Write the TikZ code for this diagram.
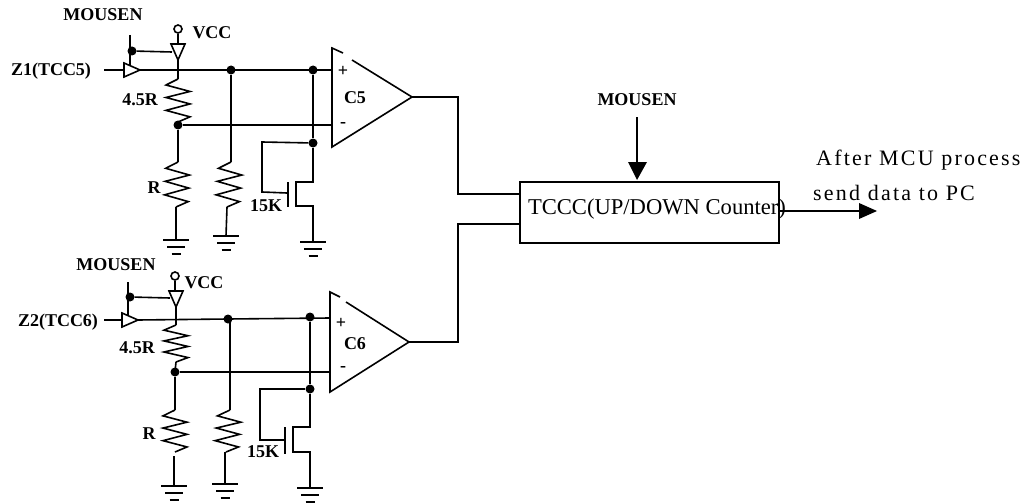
\documentclass[tikz,border=0pt]{standalone}
\usepackage{fontspec}
\setmainfont{Liberation Serif}
\usetikzlibrary{calc}
\tikzstyle{label} = [font=\fontsize{18}{18}\selectfont\bfseries, inner sep=0pt]
\tikzstyle{plain} = [font=\fontsize{22.6}{23}\selectfont, inner sep=0pt]
\tikzstyle{spaced} = [font=\fontsize{22}{22}\selectfont\addfontfeature{LetterSpace=10}, inner sep=0pt, anchor=west]
\tikzstyle{dot} = [circle, fill=black, inner sep=0pt, minimum size=9pt]
\tikzstyle{pin} = [circle, draw=black, line width=1.6pt, fill=white, inner sep=0pt, minimum size=8pt]
\tikzstyle{counter} = [rectangle, draw=black, line width=1.6pt, minimum width=259pt, minimum height=61pt, inner sep=0pt]
\tikzstyle{wire} = [line width=1.6pt]
\tikzstyle{arrow} = [line width=1.6pt]
\newcommand{\zigzag}[2]{\draw [wire] (#1) -- ($(#1)!.14!(#2)+(-12,0)$) -- ($(#1)!.29!(#2)+(12,0)$) -- ($(#1)!.43!(#2)+(-12,0)$) -- ($(#1)!.58!(#2)+(12,0)$) -- ($(#1)!.73!(#2)+(-12,0)$) -- ($(#1)!.88!(#2)+(12,0)$) -- (#2);}
\newcommand{\gnd}[1]{\draw [wire] ([xshift=-13pt]#1) -- ([xshift=13pt]#1);
\draw [wire] ([xshift=-9pt,yshift=-7pt]#1) -- ([xshift=9pt,yshift=-7pt]#1);
\draw [wire] ([xshift=-4.5pt,yshift=-14pt]#1) -- ([xshift=4.5pt,yshift=-14pt]#1);}
\newcommand{\hbuf}[1]{\draw [wire] ([xshift=-16pt,yshift=7pt]#1) -- ([xshift=-16pt,yshift=-7pt]#1) -- (#1) -- cycle;}
\newcommand{\vbuf}[1]{\draw [wire] ([xshift=-7pt,yshift=16pt]#1) -- ([xshift=7pt,yshift=16pt]#1) -- (#1) -- cycle;}
\begin{document}
\begin{tikzpicture}[x=1pt, y=-1pt]
\useasboundingbox (0,0) rectangle (1029,503);

% upper channel
\node (mousen1) [label] at (103,15) {MOUSEN};
\node (vcc1) [label] at (212,33) {VCC};
\node (z1) [label] at (51,71) {Z1(TCC5)};
\node (r45a) [label] at (140,100) {4.5R};
\node (ra) [label] at (154,188) {R};
\node (k15a) [label] at (266,206) {15K};
\node (pina) [pin] at (178,29) {};
\node (dotena) [dot] at (132,51) {};
\node (dotpa) [dot] at (231,70) {};
\node (dotqa) [dot] at (313,70) {};
\node (dotma) [dot] at (178,125) {};
\node (dotfa) [dot] at (313,143) {};
\coordinate (bufina) at (140,70);
\coordinate (bufvcca) at (178,60);
\coordinate (gnd1a) at (176,240);
\coordinate (gnd2a) at (226,236);
\coordinate (gnd3a) at (313,242);
\coordinate (c5p) at (332,70);
\coordinate (c5m) at (332,125);
\coordinate (c5o) at (412,97);

\hbuf{bufina}
\vbuf{bufvcca}
\draw [wire] (104,70) -- ++(20,0);
\draw [wire] (bufina) -- (c5p);
\draw [wire] (130,35) -- (130,65);
\draw [wire] (dotena) -- (172,52);
\draw [wire] (pina) -- (178,44);
\draw [wire] (bufvcca) -- (178,79);
\zigzag{178,79}{178,122}
\draw [wire] (178,122) -- (dotma.center);
\draw [wire] (dotma) -- (c5m);
\draw [wire] (dotma) -- (178,162);
\zigzag{178,162}{176,207}
\draw [wire] (176,207) -- (gnd1a);
\gnd{gnd1a}
\draw [wire] (dotpa) -- (231,162);
\zigzag{231,162}{227,207}
\draw [wire] (227,207) -- (gnd2a);
\gnd{gnd2a}
\draw [wire] (dotqa) -- (dotfa) -- (313,182) -- (296,182) -- (296,206) -- (313,206) -- (gnd3a);
\gnd{gnd3a}
\draw [wire] (dotfa) -- (262,142) -- (262,192) -- (287,193);
\draw [wire] (288,182) -- (288,207);

% comparator C5
\draw [wire] (343,53) -- (332,48) -- (332,147) -- (c5o) -- (352,60);
\node (plusa) [label] at (343,71) {+};
\node (c5) [label] at (355,98) {C5};
\node (minusa) [label] at (343,125) {-};

% lower channel
\node (mousen2) [label] at (116,265) {MOUSEN};
\node (vcc2) [label] at (204,283) {VCC};
\node (z2) [label] at (58,322) {Z2(TCC6)};
\node (r45b) [label] at (137,348) {4.5R};
\node (rb) [label] at (149,434) {R};
\node (k15b) [label] at (263,452) {15K};
\node (pinb) [pin] at (175,276) {};
\node (dotenb) [dot] at (130,297) {};
\node (dotpb) [dot] at (228,319) {};
\node (dotqb) [dot] at (310,317) {};
\node (dotmb) [dot] at (175,372) {};
\node (dotfb) [dot] at (310,389) {};
\coordinate (bufinb) at (138,320);
\coordinate (bufvccb) at (176,307);
\coordinate (gnd1b) at (174,486);
\coordinate (gnd2b) at (225,484);
\coordinate (gnd3b) at (310,488);
\coordinate (c6p) at (330,318);
\coordinate (c6m) at (330,372);
\coordinate (c6o) at (409,342);

\hbuf{bufinb}
\vbuf{bufvccb}
\draw [wire] (104,320) -- ++(18,0);
\draw [wire] (bufinb) -- (dotpb.center) -- (c6p);
\draw [wire] (128,282) -- (128,315);
\draw [wire] (dotenb) -- (170,298);
\draw [wire] (pinb) -- (175,291);
\draw [wire] (bufvccb) -- (176,325);
\zigzag{176,325}{176,362}
\draw [wire] (176,362) -- (dotmb.center);
\draw [wire] (dotmb) -- (c6m);
\draw [wire] (dotmb) -- (175,410);
\zigzag{175,410}{175,452}
\draw [wire] (174,456) -- (gnd1b);
\gnd{gnd1b}
\draw [wire] (230,320) -- (230,410);
\zigzag{230,410}{226,452}
\draw [wire] (225,452) -- (gnd2b);
\gnd{gnd2b}
\draw [wire] (dotqb) -- (dotfb) -- (310,427) -- (293,427) -- (293,452) -- (310,452) -- (gnd3b);
\gnd{gnd3b}
\draw [wire] (dotfb) -- (260,389) -- (260,440) -- (285,440);
\draw [wire] (285,427) -- (285,454);

% comparator C6
\draw [wire] (340,297) -- (330,292) -- (330,392) -- (c6o) -- (346,302);
\node (plusb) [label] at (341,323) {+};
\node (c6) [label] at (355,344) {C6};
\node (minusb) [label] at (343,369) {-};

% counter
\node (tccc) [counter] at (649.5,212.5) {};
\node (tccctext) [plain] at (657,209) {TCCC(UP/DOWN Counter)};
\node (mousen3) [label] at (637,100) {MOUSEN};
\node (after) [spaced] at (816,160) {After MCU process};
\node (send) [spaced] at (813,193) {send data to PC};
\coordinate (c5in) at (520,194);
\coordinate (c6in) at (520,224);
\coordinate (enin) at (637,180);
\coordinate (enfrom) at (637,117);
\coordinate (outa) at (779,211);
\coordinate (outb) at (877,211);

\draw [wire] (c5o) -- (458,97) -- (458,194) -- (c5in);
\draw [wire] (c6o) -- (458,342) -- (458,224) -- (c6in);
\draw [arrow] (enfrom) -- (637,165);
\fill (enin) -- (628,162) -- (647,162) -- cycle;
\draw [arrow] (outa) -- (860,211);
\fill (outb) -- (859,203) -- (859,219) -- cycle;

\end{tikzpicture}
\end{document}
